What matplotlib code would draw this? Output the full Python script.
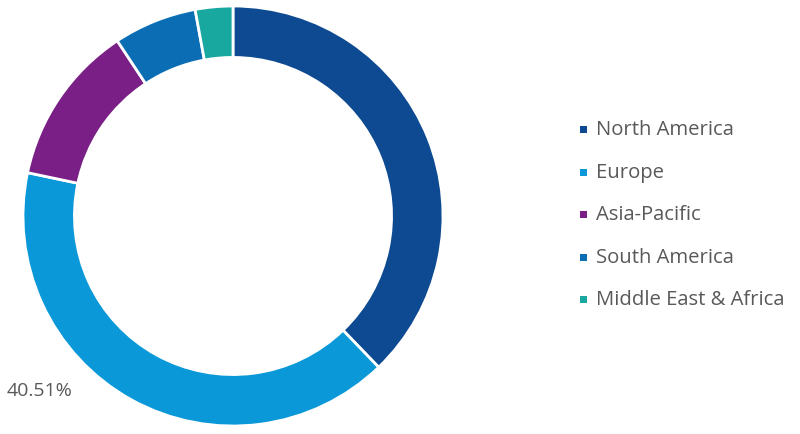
import matplotlib.pyplot as plt
from matplotlib.patches import Rectangle

regions = ["North America", "Europe", "Asia-Pacific", "South America", "Middle East & Africa"]
shares = [37.8, 40.51, 12.4, 6.4, 2.89]
colors = ["#0d4a91", "#0a98d8", "#7a1f86", "#0b6db4", "#19a8a0"]
label_text = "40.51%"

fig = plt.figure(figsize=(8, 4.35), dpi=100)
ax = fig.add_axes([23 / 800, 8 / 435, 420 / 800, 420 / 435])

ax.pie(shares, colors=colors, startangle=90, counterclock=False, radius=1,
       wedgeprops=dict(width=0.245, edgecolor="white", linewidth=2))
ax.set_xlim(-1, 1)
ax.set_ylim(-1, 1)
ax.set_aspect("equal")
ax.axis("off")

# value label for Europe
fig.text(7 / 800, 1 - 391 / 435, label_text, fontsize=14, color="#595959",
         va="center", ha="left", family="Open Sans")

# legend drawn by hand
rows_y = [130, 173, 215, 258, 300]
for name, c, y in zip(regions, colors, rows_y):
    fy = 1 - y / 435
    fig.add_artist(Rectangle((580 / 800, fy - 3.5 / 435), 7 / 800, 7 / 435,
                             transform=fig.transFigure, facecolor=c, edgecolor="none"))
    fig.text(596 / 800, fy, name, fontsize=14.6, color="#595959",
             va="center", ha="left", family="Open Sans")

fig.savefig("out.png", dpi=100)
